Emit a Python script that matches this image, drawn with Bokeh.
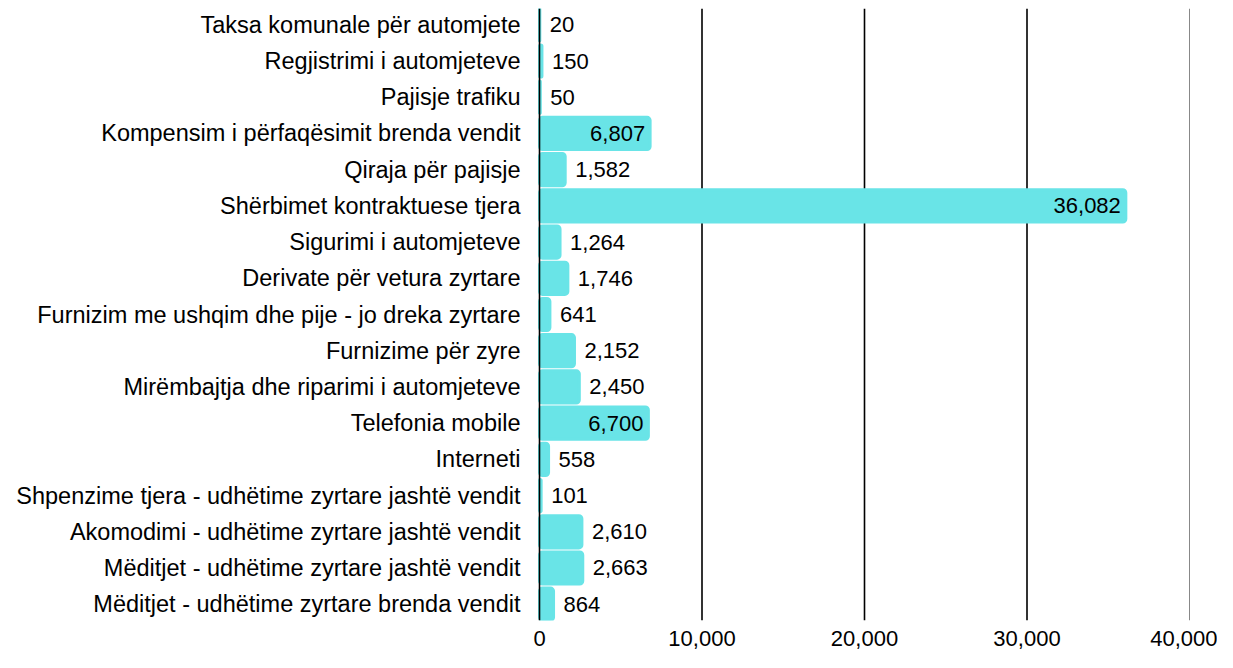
from bokeh.plotting import figure
from bokeh.models import ColumnDataSource, Range1d, FixedTicker, Span, NumeralTickFormatter
from bokeh.core.properties import value
from bokeh.embed import file_html
from bokeh.resources import INLINE

categories = [
    "Taksa komunale për automjete",
    "Regjistrimi i automjeteve",
    "Pajisje trafiku",
    "Kompensim i përfaqësimit brenda vendit",
    "Qiraja për pajisje",
    "Shërbimet kontraktuese tjera",
    "Sigurimi i automjeteve",
    "Derivate për vetura zyrtare",
    "Furnizim me ushqim dhe pije - jo dreka zyrtare",
    "Furnizime për zyre",
    "Mirëmbajtja dhe riparimi i automjeteve",
    "Telefonia mobile",
    "Interneti",
    "Shpenzime tjera - udhëtime zyrtare jashtë vendit",
    "Akomodimi - udhëtime zyrtare jashtë vendit",
    "Mëditjet - udhëtime zyrtare jashtë vendit",
    "Mëditjet - udhëtime zyrtare brenda vendit",
]
values = [20, 150, 50, 6807, 1582, 36082, 1264, 1746, 641, 2152, 2450, 6700, 558, 101, 2610, 2663, 864]
x_ticks = [0, 10000, 20000, 30000, 40000]
inside_labels = {"Kompensim i përfaqësimit brenda vendit", "Shërbimet kontraktuese tjera", "Telefonia mobile"}

n = len(categories)
ypos = [n - 1 - i for i in range(n)]
labels = [f"{v:,}" for v in values]

FONT = "Liberation Sans"
FS = "22px"
CYAN = "#69e4e7"

p = figure(width=1217, height=652, output_backend="svg", toolbar_location=None,
           x_range=Range1d(-677, 41723), y_range=Range1d(-0.45, n - 1 + 0.45),
           min_border_left=528, min_border_right=0, min_border_top=8, min_border_bottom=32)
p.outline_line_color = None
p.xgrid.grid_line_color = None
p.ygrid.grid_line_color = None

for t in x_ticks[1:]:
    col = "#888888" if t == x_ticks[-1] else "black"
    w = 1 if t == x_ticks[-1] else 1.6
    p.add_layout(Span(location=t, dimension="height", line_color=col, line_width=w, level="underlay"))

src = ColumnDataSource(dict(y=ypos, v=values, lab=labels, cat=categories))
p.hbar(y="y", left=0, right="v", height=0.89, source=src, fill_color=CYAN,
       line_color=CYAN, line_width=3, line_join="round", border_radius=3)

p.add_layout(Span(location=0, dimension="height", line_color="black", line_width=1.6))

out_idx = [i for i, c in enumerate(categories) if c not in inside_labels]
in_idx = [i for i, c in enumerate(categories) if c in inside_labels]
src_out = ColumnDataSource(dict(y=[ypos[i] for i in out_idx], v=[values[i] for i in out_idx],
                                lab=[labels[i] for i in out_idx]))
src_in = ColumnDataSource(dict(y=[ypos[i] for i in in_idx], v=[values[i] for i in in_idx],
                               lab=[labels[i] for i in in_idx]))
p.text(x="v", y="y", text="lab", source=src_out, x_offset=10, text_align="left",
       text_baseline="middle", text_font=value(FONT), text_font_size=FS, text_color="black")
p.text(x="v", y="y", text="lab", source=src_in, x_offset=-5, text_align="right",
       text_baseline="middle", text_font=value(FONT), text_font_size=FS, text_color="black")

p.yaxis.ticker = FixedTicker(ticks=ypos)
p.yaxis.major_label_overrides = {y: c for y, c in zip(ypos, categories)}
p.yaxis.axis_line_color = None
p.yaxis.major_tick_line_color = None
p.yaxis.minor_tick_line_color = None
p.yaxis.major_label_standoff = 2
p.yaxis.major_label_text_font = FONT
p.yaxis.major_label_text_font_size = "23.5px"
p.yaxis.major_label_text_color = "black"

p.xaxis.ticker = FixedTicker(ticks=x_ticks)
p.xaxis.formatter = NumeralTickFormatter(format="0,0")
p.xaxis.axis_line_color = None
p.xaxis.major_tick_line_color = None
p.xaxis.minor_tick_line_color = None
p.xaxis.major_label_standoff = 4
p.xaxis.major_label_text_font = FONT
p.xaxis.major_label_text_font_size = FS
p.xaxis.major_label_text_color = "black"

open("out.html", "w").write(file_html(p, INLINE))
